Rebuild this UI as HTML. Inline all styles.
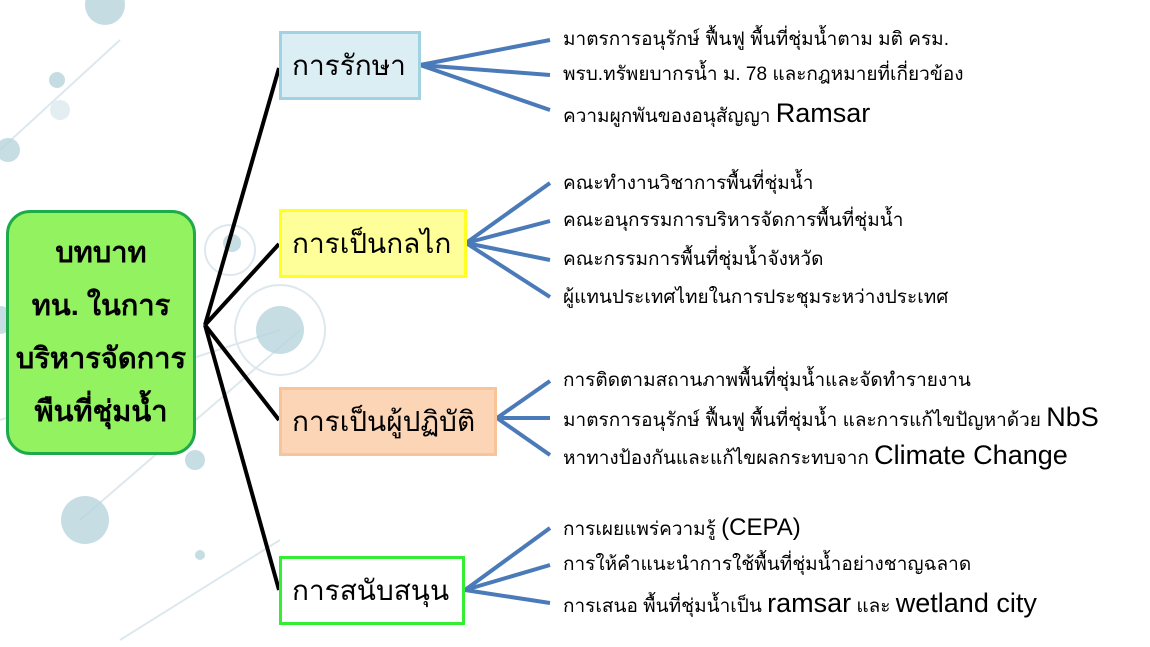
<!DOCTYPE html>
<html><head><meta charset="utf-8"><style>
body{margin:0;width:1150px;height:647px;overflow:hidden;background:#fff;font-family:"Liberation Sans","DejaVu Sans",sans-serif;position:relative}
.t{position:absolute;left:563px;font-size:19px;color:#000;white-space:nowrap;line-height:24px}
.t span{font-size:27px}
.b{position:absolute;box-sizing:border-box;font-size:28px;display:flex;align-items:center;padding-left:10px}
</style></head><body>
<svg width="1150" height="647" style="position:absolute;left:0;top:0">
<g stroke="#dde8ee" stroke-width="2" fill="none">
<line x1="0" y1="150" x2="120" y2="40"/><line x1="80" y1="520" x2="300" y2="330"/><line x1="0" y1="420" x2="280" y2="330"/><line x1="120" y1="640" x2="280" y2="540"/>
<circle cx="280" cy="330" r="45"/><circle cx="230" cy="250" r="25"/>
</g>
<g fill="#b8d4dd" opacity="0.8">
<circle cx="105" cy="5" r="20"/><circle cx="8" cy="150" r="12"/><circle cx="280" cy="330" r="24"/><circle cx="232" cy="243" r="9"/>
<circle cx="85" cy="520" r="24"/><circle cx="195" cy="460" r="10"/><circle cx="57" cy="80" r="8"/><circle cx="200" cy="555" r="5"/>
<circle cx="0" cy="320" r="14"/><circle cx="60" cy="110" r="10" opacity="0.5"/>
</g>
<g stroke="#000" stroke-width="4" fill="none">
<line x1="205" y1="325" x2="279" y2="68"/><line x1="205" y1="325" x2="279" y2="244"/>
<line x1="205" y1="325" x2="279" y2="420"/><line x1="205" y1="325" x2="279" y2="590"/>
</g>
<g stroke="#4a7ab8" stroke-width="4" fill="none">
<line x1="420" y1="65" x2="550" y2="40"/><line x1="420" y1="65" x2="550" y2="75"/><line x1="420" y1="65" x2="550" y2="110"/>
<line x1="466" y1="243" x2="550" y2="183"/><line x1="466" y1="243" x2="550" y2="221"/><line x1="466" y1="243" x2="550" y2="260"/><line x1="466" y1="243" x2="550" y2="297"/>
<line x1="497" y1="418" x2="550" y2="381"/><line x1="497" y1="418" x2="550" y2="418"/><line x1="497" y1="418" x2="550" y2="455"/>
<line x1="465" y1="590" x2="550" y2="528"/><line x1="465" y1="590" x2="550" y2="565"/><line x1="465" y1="590" x2="550" y2="603"/>
</g>
</svg>
<div style="position:absolute;left:6px;top:210px;width:190px;height:245px;box-sizing:border-box;background:#92f25f;border:3px solid #1eaa4a;border-radius:24px;display:flex;align-items:center;justify-content:center;text-align:center;font-weight:bold;font-size:29px;line-height:53px">บทบาท<br>ทน. ในการ<br>บริหารจัดการ<br>พืนที่ชุ่มน้ำ</div>
<div class="b" style="left:279px;top:31px;width:142px;height:69px;background:#dbeef4;border:3px solid #a0d2e2">การรักษา</div>
<div class="b" style="left:279px;top:209px;width:188px;height:69px;background:#ffff99;border:3px solid #ffff22">การเป็นกลไก</div>
<div class="b" style="left:279px;top:387px;width:218px;height:69px;background:#fbd5b5;border:3px solid #f8c49a">การเป็นผู้ปฏิบัติ</div>
<div class="b" style="left:279px;top:556px;width:186px;height:69px;background:#fff;border:3px solid #33ee33">การสนับสนุน</div>
<div class="t" style="top:28px">มาตรการอนุรักษ์ ฟื้นฟู พื้นที่ชุ่มน้ำตาม มติ ครม.</div>
<div class="t" style="top:63px">พรบ.ทรัพยบากรน้ำ ม. 78  และกฎหมายที่เกี่ยวข้อง</div>
<div class="t" style="top:101px">ความผูกพันของอนุสัญญา <span>Ramsar</span></div>
<div class="t" style="top:172px">คณะทำงานวิชาการพื้นที่ชุ่มน้ำ</div>
<div class="t" style="top:209px">คณะอนุกรรมการบริหารจัดการพื้นที่ชุ่มน้ำ</div>
<div class="t" style="top:248px">คณะกรรมการพื้นที่ชุ่มน้ำจังหวัด</div>
<div class="t" style="top:286px">ผู้แทนประเทศไทยในการประชุมระหว่างประเทศ</div>
<div class="t" style="top:369px">การติดตามสถานภาพพื้นที่ชุ่มน้ำและจัดทำรายงาน</div>
<div class="t" style="top:405px">มาตรการอนุรักษ์ ฟื้นฟู พื้นที่ชุ่มน้ำ และการแก้ไขปัญหาด้วย <span>NbS</span></div>
<div class="t" style="top:443px">หาทางป้องกันและแก้ไขผลกระทบจาก <span>Climate Change</span></div>
<div class="t" style="top:516px">การเผยแพร่ความรู้ <span style="font-size:24px">(CEPA)</span></div>
<div class="t" style="top:553px">การให้คำแนะนำการใช้พื้นที่ชุ่มน้ำอย่างชาญฉลาด</div>
<div class="t" style="top:591px">การเสนอ พื้นที่ชุ่มน้ำเป็น <span>ramsar</span> และ <span>wetland city</span></div>
</body></html>
